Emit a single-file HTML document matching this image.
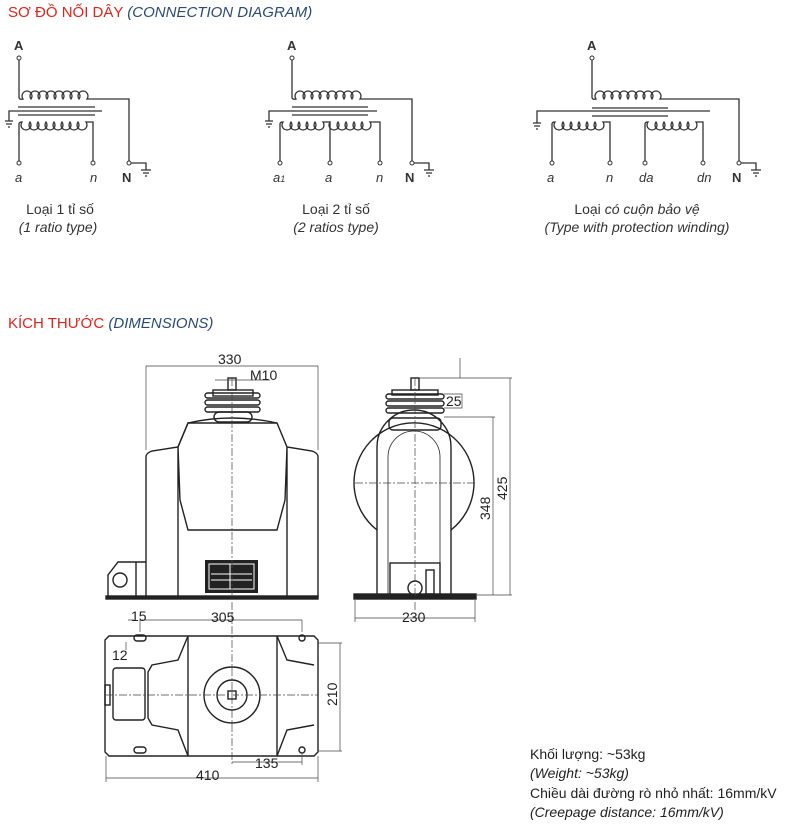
<!DOCTYPE html>
<html><head><meta charset="utf-8"><style>
body{margin:0;background:#fff;width:800px;height:822px;overflow:hidden;font-family:"Liberation Sans",sans-serif}
</style></head><body>
<svg width="800" height="822" viewBox="0 0 800 822" xmlns="http://www.w3.org/2000/svg" font-family="Liberation Sans, sans-serif">
<g font-size="15">
<text x="8" y="17" fill="#e2231a">SƠ ĐỒ NỐI DÂY <tspan fill="#2b4a7a" font-style="italic">(CONNECTION DIAGRAM)</tspan></text>
<text x="8" y="328" fill="#e2231a">KÍCH THƯỚC <tspan fill="#2b4a7a" font-style="italic">(DIMENSIONS)</tspan></text>
</g>
<g stroke="#333" stroke-width="1.3" fill="none">
<!-- Diagram 1 -->
<path d="M19,60 V97 q0,3 4,2 a5 5 0 1 1 8 0 a5 5 0 1 1 8 0 a5 5 0 1 1 8 0 a5 5 0 1 1 8 0 a5 5 0 1 1 8 0 a5 5 0 1 1 8 0 a5 5 0 1 1 8 0 a5 5 0 1 1 8 0 H129 V161"/>
<path d="M18,107 H95 M9,121 V111 H102 M18,115 H95"/>
<path d="M19,161 V124 q0,-2 3,-2 a5 5 0 1 0 8 0 a5 5 0 1 0 8 0 a5 5 0 1 0 8 0 a5 5 0 1 0 8 0 a5 5 0 1 0 8 0 a5 5 0 1 0 8 0 a5 5 0 1 0 8 0 a5 5 0 1 0 8 0 H93 V161"/>
<path d="M131,163 H146 V170 M141,170 H151 M143,173 H149 M145,176 H147 M5,121 H13 M6,124 H12 M8,127 H10"/>
<!-- Diagram 2 -->
<path d="M292,60 V97 q0,3 4,2 a5 5 0 1 1 8 0 a5 5 0 1 1 8 0 a5 5 0 1 1 8 0 a5 5 0 1 1 8 0 a5 5 0 1 1 8 0 a5 5 0 1 1 8 0 a5 5 0 1 1 8 0 a5 5 0 1 1 8 0 H412 V161"/>
<path d="M292,107 H368 M269,121 V111 H377 M292,115 H368"/>
<path d="M280,161 V124 q0,-2 3,-2 a5 5 0 1 0 8 0 a5 5 0 1 0 8 0 a5 5 0 1 0 8 0 a5 5 0 1 0 8 0 a5 5 0 1 0 8 0 H330 a5 5 0 1 0 8 0 a5 5 0 1 0 8 0 a5 5 0 1 0 8 0 a5 5 0 1 0 8 0 a5 5 0 1 0 8 0 H380 V161 M330,122 V161"/>
<path d="M414,163 H429 V170 M424,170 H434 M426,173 H432 M428,176 H430 M265,121 H273 M266,124 H272 M268,127 H270"/>
<!-- Diagram 3 -->
<path d="M592,60 V97 q0,3 4,2 a5 5 0 1 1 8 0 a5 5 0 1 1 8 0 a5 5 0 1 1 8 0 a5 5 0 1 1 8 0 a5 5 0 1 1 8 0 a5 5 0 1 1 8 0 a5 5 0 1 1 8 0 a5 5 0 1 1 8 0 H739 V161"/>
<path d="M592,108 H668 M537,123 V111 H710 M592,116 H668"/>
<path d="M552,161 V124 q0,-2 3,-2 a5 5 0 1 0 8 0 a5 5 0 1 0 8 0 a5 5 0 1 0 8 0 a5 5 0 1 0 8 0 a5 5 0 1 0 8 0 a5 5 0 1 0 8 0 H610 V161"/>
<path d="M645,161 V124 q0,-2 3,-2 a5 5 0 1 0 8 0 a5 5 0 1 0 8 0 a5 5 0 1 0 8 0 a5 5 0 1 0 8 0 a5 5 0 1 0 8 0 a5 5 0 1 0 8 0 H703 V161"/>
<path d="M741,163 H756 V170 M751,170 H761 M753,173 H759 M755,176 H757 M533,123 H541 M534,126 H540 M536,129 H538"/>
</g>
<g fill="#fff" stroke="#333" stroke-width="1">
<circle cx="19" cy="58" r="2"/><circle cx="19" cy="163" r="2"/><circle cx="93" cy="163" r="2"/><circle cx="129" cy="163" r="2"/>
<circle cx="292" cy="58" r="2"/><circle cx="280" cy="163" r="2"/><circle cx="330" cy="163" r="2"/><circle cx="380" cy="163" r="2"/><circle cx="412" cy="163" r="2"/>
<circle cx="592" cy="58" r="2"/><circle cx="552" cy="163" r="2"/><circle cx="610" cy="163" r="2"/><circle cx="645" cy="163" r="2"/><circle cx="703" cy="163" r="2"/><circle cx="739" cy="163" r="2"/>
</g>
<g font-size="13" fill="#333">
<text x="14" y="50" font-weight="bold">A</text><text x="287" y="50" font-weight="bold">A</text><text x="587" y="50" font-weight="bold">A</text>
<text x="122" y="182" font-weight="bold">N</text><text x="405" y="182" font-weight="bold">N</text><text x="732" y="182" font-weight="bold">N</text>
<g font-style="italic"><text x="15" y="182">a</text><text x="90" y="182">n</text>
<text x="273" y="182">a<tspan font-size="9">1</tspan></text><text x="325" y="182">a</text><text x="376" y="182">n</text>
<text x="547" y="182">a</text><text x="606" y="182">n</text><text x="639" y="182">da</text><text x="697" y="182">dn</text></g>
</g>
<g font-size="14" fill="#333" text-anchor="middle">
<text x="60" y="214">Loại 1 tỉ số</text><text x="58" y="232" font-style="italic">(1 ratio type)</text>
<text x="336" y="214">Loại 2 tỉ số</text><text x="336" y="232" font-style="italic">(2 ratios type)</text>
<text x="637" y="214">Loại <tspan font-style="italic">có cuộn bảo vệ</tspan></text><text x="637" y="232" font-style="italic">(Type with protection winding)</text>
</g>
<!-- Front view -->
<g stroke="#222" stroke-width="1.4" fill="none">
<path d="M146,597 V457 q0,-4 6,-6 L178,447 L188,423 H277 L287,447 L312,451 q6,2 6,6 V597"/>
<path d="M188,423 L178,447 L180,500 L188,530 H277 L285,500 L287,447 M178,447 V597 M287,447 V597"/>
<path d="M188,423 q44,-10 89,0"/>
<path d="M146,562 H118 L108,575 V597 H136 V562"/>
<circle cx="120" cy="580" r="7"/>
<rect x="213" y="390" width="40" height="6"/>
<rect x="205" y="393" width="55" height="5" rx="2.5"/><rect x="205" y="400" width="55" height="5" rx="2.5"/><rect x="205" y="407" width="55" height="5" rx="2.5"/>
<rect x="214" y="412" width="38" height="10" rx="5"/>
<rect x="228" y="378" width="8" height="12"/>
<rect x="106" y="596" width="212" height="3" fill="#222"/>
</g>
<rect x="205" y="560" width="53" height="33" fill="#222"/>
<rect x="209" y="564" width="45" height="25" fill="none" stroke="#fff" stroke-width="1"/>
<path d="M211,574 H252 M211,580 H252 M230,564 V589" stroke="#fff" stroke-width="1"/>
<g stroke="#444" stroke-width="0.7" fill="none">
<path d="M232,378 V612" stroke-dasharray="8,2,2,2"/>
<path d="M146,366 H318 M146,366 V450 M318,366 V450 M215,380 H270"/>
</g>
<g font-size="14" fill="#222"><text x="218" y="364">330</text><text x="250" y="380">M10</text></g>
<!-- Side view -->
<g stroke="#222" stroke-width="1.4" fill="none">
<path d="M377,595 V447 a37,37 0 0 1 74,0 V595"/>
<path d="M388,595 V457 a26,26 0 0 1 52,0 V595" stroke-width="0.8"/>
<path d="M377,530 A60,60 0 1 1 451,530"/>
<rect x="389" y="418" width="52" height="12" rx="4"/>
<rect x="386" y="394" width="58" height="5" rx="2.5"/><rect x="386" y="401" width="58" height="5" rx="2.5"/><rect x="386" y="408" width="58" height="5" rx="2.5"/>
<rect x="392" y="390" width="46" height="5"/>
<rect x="411" y="378" width="8" height="12"/>
<rect x="390" y="563" width="50" height="32"/>
<circle cx="415" cy="588" r="7"/><rect x="426" y="570" width="8" height="24"/>
<rect x="354" y="594" width="122" height="5" fill="#222"/>
</g>
<g stroke="#444" stroke-width="0.7" fill="none">
<path d="M415,378 V612 M355,483 H475" stroke-dasharray="8,2,2,2"/>
<path d="M419,378 H512 M444,417 H495 M510,378 V595 M493,417 V595 M475,595 H512 M460,358 V378 M355,600 V622 M475,600 V622 M355,618 H475 M444,394 H462 V408 H444"/>
</g>
<g font-size="14" fill="#222"><text x="446" y="406">25</text><text x="402" y="622">230</text>
<text transform="translate(490,520) rotate(-90)">348</text><text transform="translate(507,500) rotate(-90)">425</text></g>
<!-- Top view -->
<g stroke="#222" stroke-width="1.4" fill="none">
<path d="M109,636 H314 L318,640 V752 L314,756 H109 L105,752 V640 Z"/>
<path d="M188,636 V756 M277,636 V756"/>
<path d="M188,636 L178,660 L152,665 L148,672 V718 L152,725 L178,730 L188,756"/>
<path d="M277,636 L287,660 L314,665 M277,756 L287,730 L314,725"/>
<rect x="113" y="668" width="32" height="52" rx="3"/><rect x="105" y="685" width="5" height="20"/>
<circle cx="232" cy="695" r="28"/><circle cx="232" cy="695" r="15"/><rect x="228" y="691" width="8" height="8"/>
<rect x="134" y="635" width="12" height="6" rx="3"/><rect x="134" y="747" width="12" height="6" rx="3"/>
<circle cx="302" cy="638" r="3"/><circle cx="302" cy="750" r="3"/>
</g>
<g stroke="#444" stroke-width="0.7" fill="none">
<path d="M232,612 V765 M105,695 H318" stroke-dasharray="8,2,2,2"/>
<path d="M140,620 H302 M302,620 V632 M140,620 V632 M128,620 H134 M318,643 H342 M318,751 H342 M340,643 V751 M232,762 H302 M302,754 V765 M106,778 H318 M106,756 V782 M318,756 V782 M126,650 V642"/>
</g>
<g font-size="14" fill="#222"><text x="131" y="621">15</text><text x="211" y="622">305</text><text x="112" y="660">12</text>
<text x="255" y="768">135</text><text x="196" y="780">410</text><text transform="translate(337,706) rotate(-90)">210</text></g>
<g font-size="14" fill="#222">
<text x="530" y="759">Khối lượng: ~53kg</text>
<text x="530" y="778" font-style="italic">(Weight: ~53kg)</text>
<text x="530" y="798">Chiều dài đường rò nhỏ nhất: 16mm/kV</text>
<text x="530" y="817" font-style="italic">(Creepage distance: 16mm/kV)</text>
</g>
</svg>
</body></html>
